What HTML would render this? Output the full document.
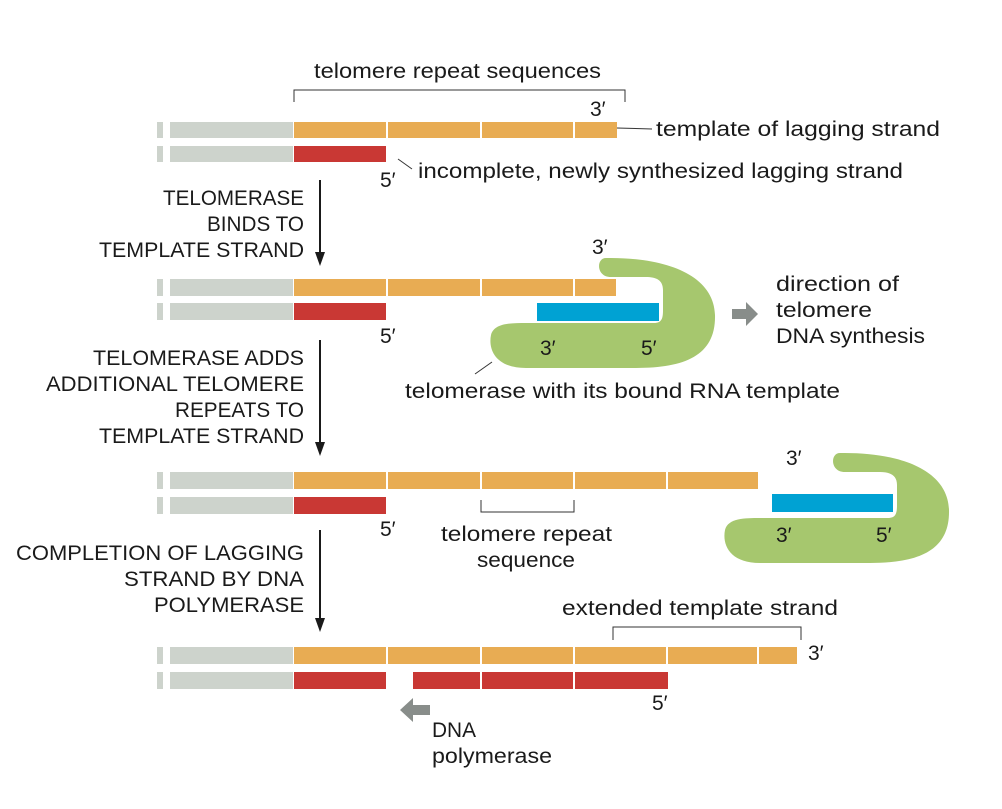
<!DOCTYPE html>
<html><head><meta charset="utf-8"><style>
body{margin:0;background:#fff}
svg text{font-family:"Liberation Sans",sans-serif;font-size:21px;fill:#1a1a1a}
</style></head><body>
<svg width="1002" height="804" viewBox="0 0 1002 804" xmlns="http://www.w3.org/2000/svg">
<defs>
<path id="enz" d="M840 453 C900 452,948 470,949 510 C950 550,920 563,870 563 L760 563 C730 563,722 545,725 530 C728 518,745 518,760 518 L888 518 C896 518,897 513,897 505 L897 485 C897 475,890 472,880 472 L845 472 C830 472,830 453,840 453 Z" fill="#a6c76e"/>
</defs>
<!-- row1 -->
<g>
<rect x="157" y="122" width="6" height="16" fill="#cdd3cc"/><rect x="170" y="122" width="123" height="16" fill="#cdd3cc"/>
<rect x="294" y="122" width="323" height="16" fill="#e8ac53"/>
<rect x="157" y="146" width="6" height="16" fill="#cdd3cc"/><rect x="170" y="146" width="123" height="16" fill="#cdd3cc"/>
<rect x="294" y="146" width="92" height="16" fill="#c93834"/>
<g stroke="#fff" stroke-width="2"><line x1="387" y1="122" x2="387" y2="138"/><line x1="481" y1="122" x2="481" y2="138"/><line x1="574" y1="122" x2="574" y2="138"/></g>
<path d="M294 102 V90 H625 V102" fill="none" stroke="#333" stroke-width="1"/>
<text x="314" y="78" textLength="287" lengthAdjust="spacingAndGlyphs">telomere repeat sequences</text>
<text x="590" y="116">3′</text>
<line x1="617" y1="128" x2="652" y2="129" stroke="#333"/>
<text x="656" y="136" textLength="284" lengthAdjust="spacingAndGlyphs">template of lagging strand</text>
<text x="380" y="187">5′</text>
<line x1="398" y1="159" x2="412" y2="169" stroke="#333"/>
<text x="418" y="178" textLength="485" lengthAdjust="spacingAndGlyphs">incomplete, newly synthesized lagging strand</text>
</g>
<!-- arrows -->
<g stroke="#1a1a1a" stroke-width="2"><line x1="320" y1="180" x2="320" y2="255"/><line x1="320" y1="340" x2="320" y2="445"/><line x1="320" y1="530" x2="320" y2="620"/></g>
<g fill="#1a1a1a"><path d="M315 252 L325 252 L320 266 Z"/><path d="M315 442 L325 442 L320 456 Z"/><path d="M315 618 L325 618 L320 632 Z"/></g>
<g text-anchor="end">
<text x="304" y="205" textLength="141" lengthAdjust="spacingAndGlyphs">TELOMERASE</text><text x="304" y="231" textLength="97" lengthAdjust="spacingAndGlyphs">BINDS TO</text><text x="304" y="257" textLength="205" lengthAdjust="spacingAndGlyphs">TEMPLATE STRAND</text>
<text x="304" y="365" textLength="211" lengthAdjust="spacingAndGlyphs">TELOMERASE ADDS</text><text x="304" y="391" textLength="258" lengthAdjust="spacingAndGlyphs">ADDITIONAL TELOMERE</text><text x="304" y="417" textLength="129" lengthAdjust="spacingAndGlyphs">REPEATS TO</text><text x="304" y="443" textLength="205" lengthAdjust="spacingAndGlyphs">TEMPLATE STRAND</text>
<text x="304" y="560" textLength="288" lengthAdjust="spacingAndGlyphs">COMPLETION OF LAGGING</text><text x="304" y="586" textLength="180" lengthAdjust="spacingAndGlyphs">STRAND BY DNA</text><text x="304" y="612" textLength="150" lengthAdjust="spacingAndGlyphs">POLYMERASE</text>
</g>
<!-- row2 -->
<rect x="157" y="279" width="6" height="17" fill="#cdd3cc"/><rect x="170" y="279" width="123" height="17" fill="#cdd3cc"/>
<rect x="294" y="279" width="322" height="17" fill="#e8ac53"/>
<rect x="157" y="303" width="6" height="17" fill="#cdd3cc"/><rect x="170" y="303" width="123" height="17" fill="#cdd3cc"/>
<rect x="294" y="303" width="92" height="17" fill="#c93834"/>
<g stroke="#fff" stroke-width="2"><line x1="387" y1="279" x2="387" y2="296"/><line x1="481" y1="279" x2="481" y2="296"/><line x1="574" y1="279" x2="574" y2="296"/></g>
<use href="#enz" transform="translate(-234,-195)"/>
<rect x="537" y="303" width="122" height="18" fill="#00a2d3"/>
<text x="592" y="254">3′</text>
<text x="380" y="343">5′</text>
<text x="540" y="355">3′</text><text x="641" y="355">5′</text>
<line x1="492" y1="362" x2="475" y2="374" stroke="#333"/>
<text x="405" y="398" textLength="435" lengthAdjust="spacingAndGlyphs">telomerase with its bound RNA template</text>
<path d="M732 309 H746 V302 L758 314 L746 326 V319 H732 Z" fill="#888d8a"/>
<text x="776" y="291" textLength="123" lengthAdjust="spacingAndGlyphs">direction of</text><text x="776" y="317" textLength="96" lengthAdjust="spacingAndGlyphs">telomere</text><text x="776" y="343" textLength="149" lengthAdjust="spacingAndGlyphs">DNA synthesis</text>
<!-- row3 -->
<rect x="157" y="472" width="6" height="17" fill="#cdd3cc"/><rect x="170" y="472" width="123" height="17" fill="#cdd3cc"/>
<rect x="294" y="472" width="464" height="17" fill="#e8ac53"/>
<rect x="157" y="497" width="6" height="17" fill="#cdd3cc"/><rect x="170" y="497" width="123" height="17" fill="#cdd3cc"/>
<rect x="294" y="497" width="92" height="17" fill="#c93834"/>
<g stroke="#fff" stroke-width="2"><line x1="387" y1="472" x2="387" y2="489"/><line x1="481" y1="472" x2="481" y2="489"/><line x1="574" y1="472" x2="574" y2="489"/><line x1="667" y1="472" x2="667" y2="489"/></g>
<use href="#enz"/>
<rect x="772" y="494" width="121" height="18" fill="#00a2d3"/>
<text x="786" y="465">3′</text>
<text x="380" y="536">5′</text>
<text x="776" y="542">3′</text><text x="876" y="542">5′</text>
<path d="M481 500 V512 H574 V500" fill="none" stroke="#333"/>
<text x="441" y="541" textLength="171" lengthAdjust="spacingAndGlyphs">telomere repeat</text><text x="477" y="567" textLength="98" lengthAdjust="spacingAndGlyphs">sequence</text>
<!-- row4 -->
<rect x="157" y="647" width="6" height="17" fill="#cdd3cc"/><rect x="170" y="647" width="123" height="17" fill="#cdd3cc"/>
<rect x="294" y="647" width="503" height="17" fill="#e8ac53"/>
<rect x="157" y="672" width="6" height="17" fill="#cdd3cc"/><rect x="170" y="672" width="123" height="17" fill="#cdd3cc"/>
<rect x="294" y="672" width="92" height="17" fill="#c93834"/>
<rect x="413" y="672" width="255" height="17" fill="#c93834"/>
<g stroke="#fff" stroke-width="2"><line x1="387" y1="647" x2="387" y2="664"/><line x1="481" y1="647" x2="481" y2="664"/><line x1="574" y1="647" x2="574" y2="664"/><line x1="667" y1="647" x2="667" y2="664"/><line x1="758" y1="647" x2="758" y2="664"/><line x1="481" y1="672" x2="481" y2="689"/><line x1="574" y1="672" x2="574" y2="689"/></g>
<path d="M613 640 V627 H801 V640" fill="none" stroke="#333"/>
<text x="562" y="615" textLength="276" lengthAdjust="spacingAndGlyphs">extended template strand</text>
<text x="808" y="660">3′</text>
<text x="652" y="710">5′</text>
<path d="M430 705 H413 V698 L400 710 L413 722 V715 H430 Z" fill="#888d8a"/>
<text x="432" y="737" textLength="44" lengthAdjust="spacingAndGlyphs">DNA</text><text x="432" y="763" textLength="120" lengthAdjust="spacingAndGlyphs">polymerase</text>
</svg>
</body></html>
